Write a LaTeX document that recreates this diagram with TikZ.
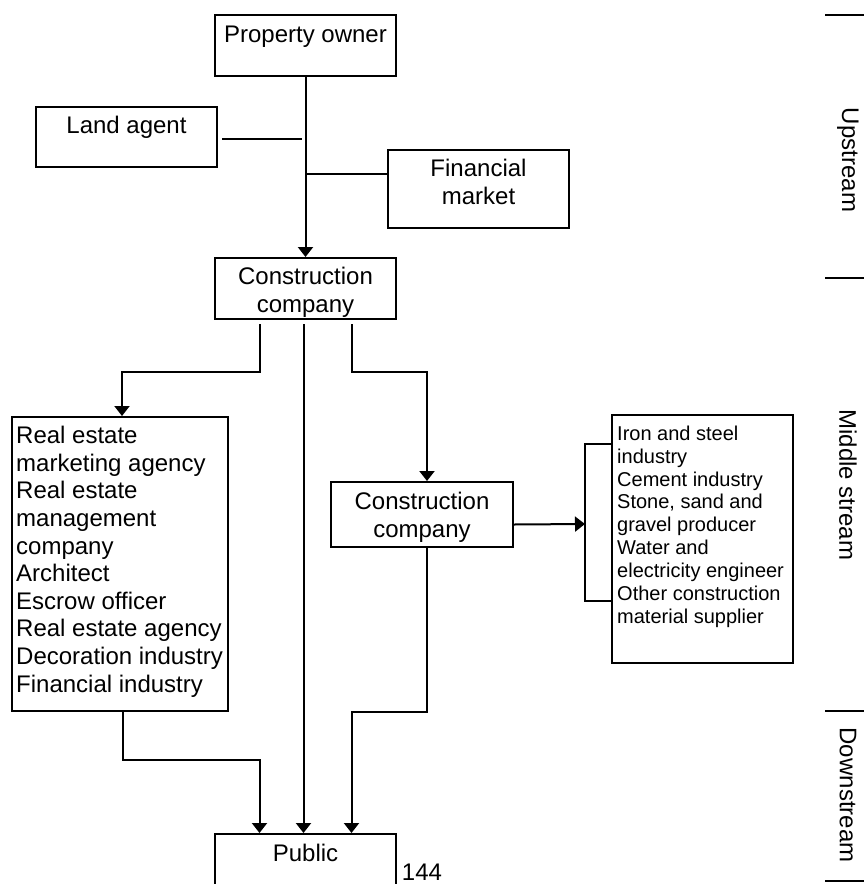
\documentclass[tikz,border=0pt]{standalone}
\usepackage{fontspec}
\setmainfont{Liberation Sans}
\usetikzlibrary{arrows.meta}

\begin{document}
\begin{tikzpicture}[x=1pt,y=-1pt]
	\tikzset{box/.style={draw,line width=2pt,minimum width=\boxwidth pt,inner sep=0pt},
		txt/.style={font=\fontsize{24}{27.6}\selectfont,inner sep=0pt},
		small/.style={font=\fontsize{20}{22.9}\selectfont,inner sep=0pt,align=left},
		link/.style={line width=2pt},
		arr/.style={line width=2pt,-{Triangle[width=15pt,length=10pt]}}}
	
	% Width of the boxes
	\def\boxwidth{181}
	
	% Page frame
	\clip (0,0) rectangle (864,884);
	
	% Upstream boxes
	\node[box,minimum height=61pt] (po) at (305.5,45.5) {};
	\node[txt,anchor=base] (potxt) at (305.5,42) {Property owner};
	\node[box,minimum height=60pt] (la) at (126.5,137) {};
	\node[txt,anchor=base] (latxt) at (126.5,133) {Land agent};
	\node[box,minimum height=78pt] (fm) at (478.5,189) {};
	\node[txt,align=center] (fmtxt) at (478.5,182) {Financial\\market};
	\node[box,minimum height=61pt] (cc1) at (305.5,288.5) {};
	\node[txt,align=center] (cc1txt) at (305.5,292) {Construction\\company};
	
	% Middle stream boxes
	\node[box,minimum width=216pt,minimum height=294pt] (rea) at (120,564) {};
	\node[txt,align=left,anchor=north west] (reatxt) at (16,426)
		{Real estate\\marketing agency\\Real estate\\management\\company\\Architect\\Escrow officer\\Real estate agency\\Decoration industry\\Financial industry};
	\node[box,minimum width=182pt,minimum height=65pt] (cc2) at (422,514.5) {};
	\node[txt,align=center] (cc2txt) at (422,517.5) {Construction\\company};
	\node[box,minimum height=248pt] (sup) at (702.5,539) {};
	\node[small,anchor=north west] (suptxt) at (617,425.5)
		{Iron and steel\\industry\\Cement industry\\Stone, sand and\\gravel producer\\Water and\\electricity engineer\\Other construction\\material supplier};
	
	% Downstream box
	\node[box,minimum height=90pt] (pub) at (305.5,879) {};
	\node[txt,anchor=base] (pubtxt) at (305.5,861) {Public};
	\node[txt,anchor=base] (pagenum) at (422,880) {144};
	
	% Stream labels on the right
	\foreach \y in {15,278,711,881}
	{
		\draw[link] (825,\y) -- (864,\y);
	}
	\node[txt,rotate=-90] (upst) at (848,160) {Upstream};
	\node[txt,rotate=-90] (midst) at (848,485) {Middle stream};
	\node[txt,rotate=-90] (downst) at (848,795) {Downstream};
	
	% Upstream links
	\draw[arr] (po) -- (cc1);
	\coordinate (laj) at ([xshift=4pt,yshift=-2pt]la.east);
	\draw[link] (laj) -- ([xshift=-4pt]laj -| po.south);
	\coordinate (fmj) at ([yshift=15pt]fm.west);
	\draw[link] (fmj) -- (fmj -| po.south);
	
	% Links out of the construction company
	\draw[arr] ([xshift=-46pt,yshift=-4pt]cc1.south) -- ++(0,48) -| ([xshift=2pt]rea.north);
	\draw[arr] ([xshift=-2pt,yshift=-4pt]cc1.south) -- ([xshift=-2pt]pub.north);
	\draw[arr] ([xshift=46pt,yshift=-4pt]cc1.south) -- ++(0,48) -| ([xshift=5pt]cc2.north);
	
	% Bracket round the suppliers
	\coordinate (brk) at (585,524);
	\draw[link] ([yshift=95pt]sup.west) -| (brk) |- ([yshift=-62pt]sup.west);
	\draw[arr] ([yshift=-10pt]cc2.east) -- (brk);
	
	% Links down to the public
	\draw[arr] ([xshift=3pt]rea.south) -- ++(0,48) -| ([xshift=-46pt]pub.north);
	\draw[arr] ([xshift=5pt]cc2.south) -- ++(0,164) -| ([xshift=46pt]pub.north);
\end{tikzpicture}
\end{document}
